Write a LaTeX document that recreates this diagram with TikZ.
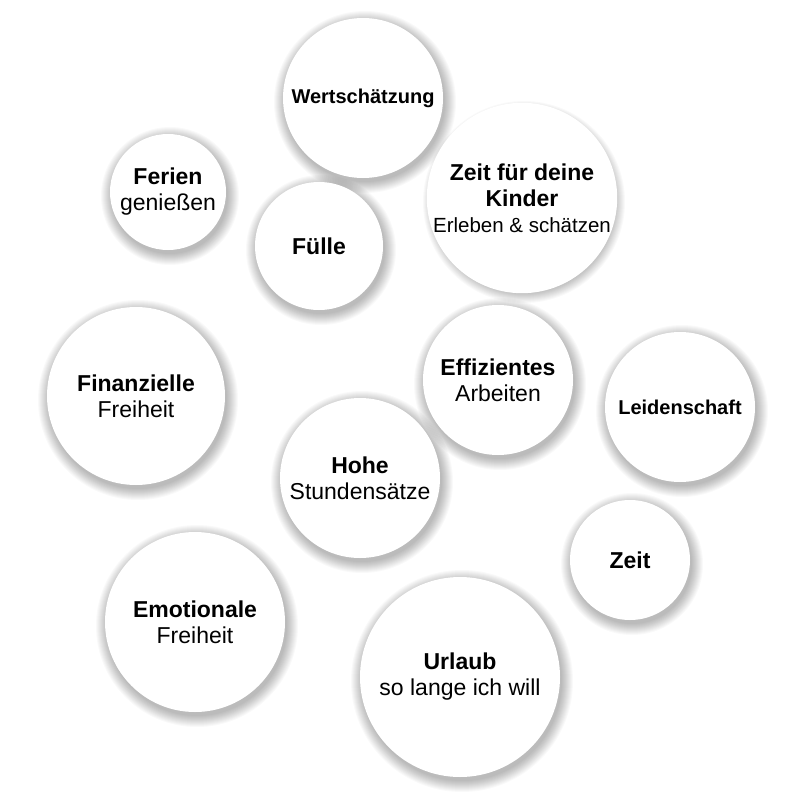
\documentclass[tikz,border=0pt]{standalone}
\usepackage{fontspec}
\setmainfont{Liberation Sans}
\begin{document}
\begin{tikzpicture}[x=1pt,y=-1pt,
  bubble/.style={circle,fill=white,minimum size=#1,inner sep=0pt,align=center,
    font=\fontsize{23}{26}\selectfont},
  shade layer/.style={fill=black,fill opacity=0.022,draw=none}]
\newcommand\myshadow[3]{%
  \foreach \d in {0,1,...,11}{\fill[shade layer] (#1+2,#2+4) circle ({#3+11-\d});}}
\useasboundingbox[fill=white] (0,0) rectangle (800,800);
\myshadow{363}{98}{80}\myshadow{168}{192}{58}\myshadow{319}{246}{64}
\myshadow{522}{198}{90}\myshadow{136}{396}{89}\myshadow{498}{380}{75}
\myshadow{680}{407}{75}\myshadow{360}{478}{80}\myshadow{630}{560}{60}
\myshadow{195}{622}{90}\myshadow{460}{677}{100}
\node[bubble=160pt] (w) at (363,98) {\fontsize{20}{23}\selectfont\textbf{Wertschätzung}};
\node[bubble=116pt] (f) at (168,192) {\textbf{Ferien}\\genießen};
\node[bubble=128pt] (fu) at (319,246) {\textbf{Fülle}};
\node[bubble=180pt] (k) at (522,198) {\textbf{Zeit für deine}\\\textbf{Kinder}\\\fontsize{20.5}{23}\selectfont Erleben \& schätzen};
\node[bubble=178pt] (fi) at (136,396) {\textbf{Finanzielle}\\Freiheit};
\node[bubble=150pt] (e) at (498,380) {\textbf{Effizientes}\\Arbeiten};
\node[bubble=150pt] (l) at (680,407) {\fontsize{20}{23}\selectfont\textbf{Leidenschaft}};
\node[bubble=160pt] (h) at (360,478) {\textbf{Hohe}\\Stundensätze};
\node[bubble=120pt] (z) at (630,560) {\textbf{Zeit}};
\node[bubble=180pt] (em) at (195,622) {\textbf{Emotionale}\\Freiheit};
\node[bubble=200pt] (u) at (460,677) {\textbf{Urlaub}\\so lange ich will};
\end{tikzpicture}
\end{document}
